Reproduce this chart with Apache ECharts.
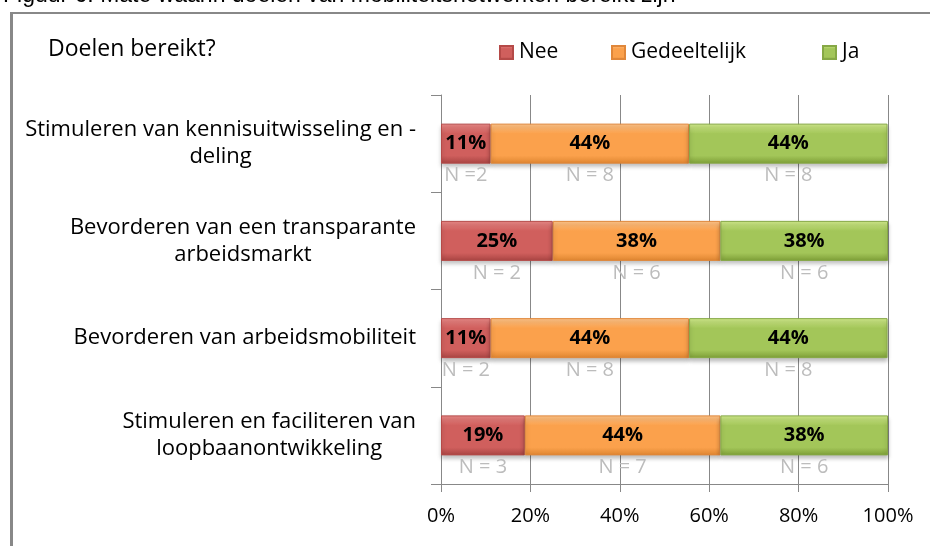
<!DOCTYPE html>
<html>
<head>
<meta charset="utf-8">
<script src="https://cdn.jsdelivr.net/npm/echarts@6/dist/echarts.min.js"></script>
<style>
  html, body { margin: 0; padding: 0; background: #fff; }
  #chart { width: 930px; height: 546px; }
</style>
</head>
<body>
<div id="chart"></div>
<script>
// categorieën (van boven naar beneden)
const categories = [
  "Stimuleren van kennisuitwisseling en -\ndeling",
  "Bevorderen van een transparante\narbeidsmarkt",
  "Bevorderen van arbeidsmobiliteit",
  "Stimuleren en faciliteren van\nloopbaanontwikkeling"
];

// percentages per antwoord
const neeValues = [11.1, 25, 11.1, 18.75];
const gedeeltelijkValues = [44.4, 37.5, 44.4, 43.75];
const jaValues = [44.4, 37.5, 44.4, 37.5];

// aantallen onder de balken
const neeN = ["N =2", "N = 2", "N = 2", "N = 3"];
const gedeeltelijkN = ["N = 8", "N = 6", "N = 8", "N = 7"];
const jaN = ["N = 8", "N = 6", "N = 8", "N = 6"];

const xTicks = [0, 20, 40, 60, 80, 100];

const FONT = "Open Sans";

// kleurverloop zoals de excel-bevel
const grad = (top, mid, bottom) => new echarts.graphic.LinearGradient(0, 0, 0, 1, [
  { offset: 0, color: top },
  { offset: 0.25, color: mid },
  { offset: 0.8, color: mid },
  { offset: 1, color: bottom }
]);

const colors = {
  nee: { fill: grad("#eb8a88", "#d05f5d", "#a84442"), border: "#b54a48", icon: "#c0504d" },
  ged: { fill: grad("#ffc58a", "#fba14c", "#de8530"), border: "#e0873a", icon: "#f79646" },
  ja: { fill: grad("#d2ec8c", "#a3c659", "#7d9e37"), border: "#86a845", icon: "#9bbb59" }
};

const pctSeries = (name, values, c) => ({
  name,
  type: "bar",
  stack: "pct",
  barWidth: 40,
  data: values,
  itemStyle: {
    color: c.fill,
    borderColor: c.border,
    borderWidth: 1,
    shadowColor: "rgba(0,0,0,0.25)",
    shadowBlur: 4,
    shadowOffsetY: 3
  },
  label: {
    show: true,
    position: "inside",
    fontFamily: FONT,
    fontWeight: "bold",
    fontSize: 20,
    color: "#000",
    formatter: (p) => Math.round(p.value) + "%"
  },
  emphasis: { disabled: true }
});

// onzichtbare balken, alleen voor de N-labels eronder
const nSeries = (name, values, labels) => ({
  name,
  type: "bar",
  stack: "n",
  barWidth: 40,
  barGap: "-100%",
  silent: true,
  data: values,
  itemStyle: { color: "rgba(0,0,0,0)" },
  label: {
    show: true,
    position: "bottom",
    distance: 2,
    fontFamily: FONT,
    fontSize: 20,
    color: "#bcbcbc",
    formatter: (p) => labels[p.dataIndex]
  },
  emphasis: { disabled: true }
});

const legendItem = (name, left) => ({
  data: [name],
  left,
  top: 37,
  icon: "rect",
  itemWidth: 13,
  itemHeight: 13,
  itemGap: 8,
  textStyle: { fontFamily: FONT, fontSize: 21, color: "#000", padding: [0, 0, 0, 1] }
});

const chart = echarts.init(document.getElementById("chart"));

const option = {
  animation: false,
  textStyle: { fontFamily: FONT },
  graphic: [
    {
      type: "text",
      left: 3,
      top: -16,
      style: {
        text: "Figuur 6: Mate waarin doelen van mobiliteitsnetwerken bereikt zijn",
        font: "23px 'Liberation Sans'",
        fill: "#000"
      }
    },
    { type: "line", shape: { x1: 11.5, y1: 13, x2: 11.5, y2: 546 }, style: { stroke: "#888", lineWidth: 3 } },
    { type: "line", shape: { x1: 10, y1: 13, x2: 930, y2: 13 }, style: { stroke: "#888", lineWidth: 2 } }
  ],
  title: {
    text: "Doelen bereikt?",
    left: 43,
    top: 33,
    textStyle: { fontFamily: FONT, fontSize: 23, fontWeight: "normal", color: "#000" }
  },
  legend: [
    legendItem("Nee", 494),
    legendItem("Gedeeltelijk", 606),
    legendItem("Ja", 817)
  ],
  grid: { left: 441, right: 42, top: 95, bottom: 62 },
  xAxis: {
    type: "value",
    min: 0,
    max: 100,
    interval: 20,
    axisLine: { show: true, lineStyle: { color: "#888", width: 1 } },
    axisTick: { show: true, length: 8, lineStyle: { color: "#888" } },
    splitLine: { show: true, lineStyle: { color: "#888", width: 1 } },
    axisLabel: {
      margin: 22,
      fontFamily: FONT,
      fontSize: 20,
      color: "#000",
      formatter: (v) => (xTicks.includes(v) ? v + "%" : "")
    }
  },
  yAxis: {
    type: "category",
    inverse: true,
    data: categories,
    axisLine: { show: true, lineStyle: { color: "#888", width: 1 } },
    axisTick: { show: true, length: 10, lineStyle: { color: "#888" } },
    axisLabel: {
      margin: 25,
      fontFamily: FONT,
      fontSize: 22,
      color: "#000",
      lineHeight: 27,
      formatter: (v) => v.split("\n").map((l) => "{c|" + l + "}").join("\n"),
      rich: { c: { align: "center", fontFamily: FONT, fontSize: 22, lineHeight: 27, color: "#000" } }
    }
  },
  series: [
    pctSeries("Nee", neeValues, colors.nee),
    pctSeries("Gedeeltelijk", gedeeltelijkValues, colors.ged),
    pctSeries("Ja", jaValues, colors.ja),
    nSeries("N nee", neeValues, neeN),
    nSeries("N gedeeltelijk", gedeeltelijkValues, gedeeltelijkN),
    nSeries("N ja", jaValues, jaN)
  ],
  color: [colors.nee.icon, colors.ged.icon, colors.ja.icon]
};

chart.setOption(option);
</script>
</body>
</html>
